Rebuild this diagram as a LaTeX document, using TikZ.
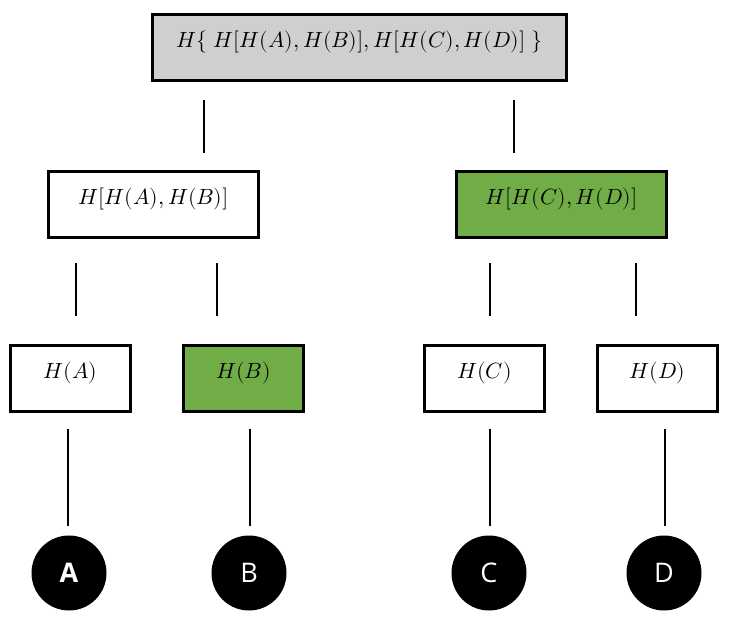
\documentclass[tikz,border=0pt]{standalone}
\usepackage{fontspec}
\usepackage{unicode-math}
\setmathfont{Latin Modern Math}
\newfontfamily\letterfont{Open Sans}
\definecolor{boxgray}{RGB}{208,206,207}
\definecolor{boxgreen}{RGB}{112,173,71}
\begin{document}
\begin{tikzpicture}[x=1pt,y=-1pt,
  hbox/.style={draw=black,line width=3pt,rectangle,inner sep=0pt,
    minimum height=66.5pt,text height=33.5pt,text depth=33pt,
    font=\fontsize{22}{26}\selectfont},
  conn/.style={line width=2.8pt},
  leaf/.style={circle,fill=black,minimum size=75pt,inner sep=0pt,text=white,
    font=\letterfont\fontsize{27}{32}\selectfont}]
\useasboundingbox (0,0) rectangle (731,644);
% boxes
\node[hbox,fill=boxgray,minimum width=414pt] (top) at (359.5,47.5) {$H\{\;H[H(A),H(B)],H[H(C),H(D)]\;\}$};
\node[hbox,fill=white,minimum width=210pt] (l) at (153.5,204.5) {$H[H(A),H(B)]$};
\node[hbox,fill=boxgreen,minimum width=210pt] (r) at (561.5,204.5) {$H[H(C),H(D)]$};
\node[hbox,fill=white,minimum width=120pt] (ha) at (70.5,378.5) {$H(A)$};
\node[hbox,fill=boxgreen,minimum width=120pt] (hb) at (243.5,378.5) {$H(B)$};
\node[hbox,fill=white,minimum width=120pt] (hc) at (484.5,378.5) {$H(C)$};
\node[hbox,fill=white,minimum width=120pt] (hd) at (657.5,378.5) {$H(D)$};
% leaves
\node[leaf] (a) at (69,573) {\bfseries A};
\node[leaf] (b) at (249,573) {B};
\node[leaf] (c) at (489,573) {C};
\node[leaf] (d) at (664,573) {D};
% connector end points
\coordinate (t1) at (204,100); \coordinate (t1e) at (204,153);
\coordinate (t2) at (514,100); \coordinate (t2e) at (514,153);
\coordinate (l1) at (76,263);  \coordinate (l1e) at (76,316);
\coordinate (l2) at (217,263); \coordinate (l2e) at (217,316);
\coordinate (r1) at (490,263); \coordinate (r1e) at (490,316);
\coordinate (r2) at (636,263); \coordinate (r2e) at (636,316);
\coordinate (a1) at (68,429);  \coordinate (a1e) at (68,526);
\coordinate (b1) at (250,429); \coordinate (b1e) at (250,526);
\coordinate (c1) at (490,429); \coordinate (c1e) at (490,526);
\coordinate (d1) at (665,429); \coordinate (d1e) at (665,526);
\draw[conn] (t1) -- (t1e);
\draw[conn] (t2) -- (t2e);
\draw[conn] (l1) -- (l1e);
\draw[conn] (l2) -- (l2e);
\draw[conn] (r1) -- (r1e);
\draw[conn] (r2) -- (r2e);
\draw[conn] (a1) -- (a1e);
\draw[conn] (b1) -- (b1e);
\draw[conn] (c1) -- (c1e);
\draw[conn] (d1) -- (d1e);
\end{tikzpicture}
\end{document}
